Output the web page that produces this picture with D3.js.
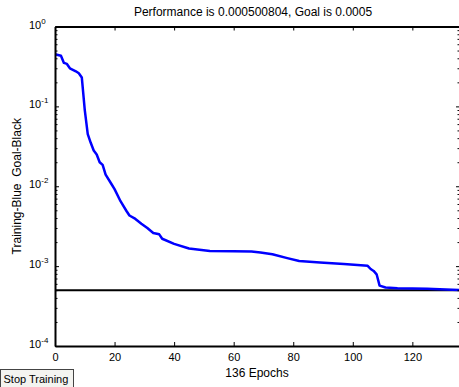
<!DOCTYPE html>
<html>
<head>
<meta charset="utf-8">
<script src="https://cdn.jsdelivr.net/npm/d3@7"></script>
<style>
  body { margin: 0; background: #fff; }
  svg { display: block; font-family: "Liberation Sans", Arial, sans-serif; }
  .axis path, .axis line { stroke: #000; }
  .axis path { stroke-width: 2; }
</style>
</head>
<body>
<svg id="chart" width="459" height="387"></svg>
<script>
// training record
const epochs = [0, 1, 2, 3, 4, 5, 7, 8, 9, 10, 11, 12, 13, 14, 15, 16, 17, 19, 20, 22, 24, 25, 27, 29, 31, 33, 35, 36, 40, 45, 52, 60, 66, 69, 73, 78, 82, 89, 97, 105, 106, 107, 108, 109, 111, 115, 125, 127, 136];
const perf = [0.45, 0.44, 0.43, 0.35, 0.34, 0.30, 0.275, 0.26, 0.23, 0.09, 0.045, 0.035, 0.028, 0.025, 0.020, 0.0185, 0.014, 0.0106, 0.0092, 0.0065, 0.0049, 0.0043, 0.0039, 0.0034, 0.0030, 0.0026, 0.0025, 0.0022, 0.0019, 0.00166, 0.00155, 0.00153, 0.00152, 0.00148, 0.00141, 0.00126, 0.00116, 0.00111, 0.00106, 0.00101, 0.00092, 0.00087, 0.00079, 0.00057, 0.00054, 0.00053, 0.00052, 0.000516, 0.000500804];
const goal = 0.0005;
const decades = [-4, -3, -2, -1, 0];
const xTicks = [0, 20, 40, 60, 80, 100, 120];

const svg = d3.select("#chart");
const mLeft = 55, mRight = 460, mTop = 26.5, mBottom = 346;

const x = d3.scaleLinear().domain([0, 136]).range([mLeft, mRight]);
const y = d3.scaleLog().domain([1e-4, 1]).range([mBottom, mTop]);

const major = decades.map(e => Math.pow(10, e));
const minor = [];
decades.slice(0, -1).forEach(e => {
  for (let k = 2; k <= 9; k++) minor.push(k * Math.pow(10, e));
});

// curve + goal line, clipped to the axes box
svg.append("clipPath").attr("id", "clip")
  .append("rect")
  .attr("x", mLeft).attr("y", mTop)
  .attr("width", mRight - mLeft).attr("height", mBottom - mTop);

const plot = svg.append("g").attr("clip-path", "url(#clip)");

plot.append("line")
  .attr("x1", x(0)).attr("x2", x(136))
  .attr("y1", y(goal)).attr("y2", y(goal))
  .attr("stroke", "#000")
  .attr("stroke-width", 2);

plot.append("path")
  .datum(epochs.map((e, i) => [e, perf[i]]))
  .attr("fill", "none")
  .attr("stroke", "#0000ff")
  .attr("stroke-width", 2.5)
  .attr("stroke-linejoin", "round")
  .attr("d", d3.line().x(d => x(d[0])).y(d => y(d[1])));

// axes, ticks pointing inward
svg.append("g").attr("class", "axis")
  .attr("transform", `translate(0,${mBottom})`)
  .call(d3.axisBottom(x).tickValues(xTicks).tickSizeInner(-4).tickSizeOuter(0).tickPadding(7))
  .call(g => g.selectAll("text")
    .attr("font-size", 11).attr("font-family", null).attr("fill", "#000"));

svg.append("g").attr("class", "axis")
  .attr("transform", `translate(0,${mTop})`)
  .call(d3.axisTop(x).tickValues(xTicks).tickSizeInner(-4).tickSizeOuter(0).tickFormat(""));

svg.append("g").attr("class", "axis")
  .attr("transform", `translate(${mLeft},0)`)
  .call(d3.axisLeft(y).tickValues(major).tickSizeInner(-4).tickSizeOuter(0).tickFormat(""));

svg.append("g").attr("class", "axis")
  .attr("transform", `translate(${mLeft},0)`)
  .call(d3.axisLeft(y).tickValues(minor).tickSizeInner(-2.5).tickSizeOuter(0).tickFormat(""))
  .call(g => g.select(".domain").remove());

svg.append("g").attr("class", "axis")
  .attr("transform", `translate(${mRight},0)`)
  .call(d3.axisRight(y).tickValues(major).tickSizeInner(-4).tickSizeOuter(0).tickFormat(""));

svg.append("g").attr("class", "axis")
  .attr("transform", `translate(${mRight},0)`)
  .call(d3.axisRight(y).tickValues(minor).tickSizeInner(-2.5).tickSizeOuter(0).tickFormat(""))
  .call(g => g.select(".domain").remove());

// 10^n labels
const ylab = svg.append("g").selectAll("text")
  .data(decades)
  .join("text")
  .attr("font-size", 11)
  .attr("y", d => y(Math.pow(10, d)) + 2);

ylab.append("tspan")
  .attr("x", 29)
  .text("10");
ylab.append("tspan")
  .attr("dy", -5)
  .attr("font-size", 8)
  .text(d => d === 0 ? "0" : "-" + Math.abs(d));

// titles
svg.append("text")
  .attr("x", 253).attr("y", 16)
  .attr("text-anchor", "middle")
  .attr("font-size", 12)
  .text("Performance is 0.000500804, Goal is 0.0005");

svg.append("text")
  .attr("x", 257).attr("y", 377)
  .attr("text-anchor", "middle")
  .attr("font-size", 12)
  .text("136 Epochs");

svg.append("text")
  .attr("transform", `translate(21,${(mTop + mBottom) / 2}) rotate(-90)`)
  .attr("text-anchor", "middle")
  .attr("font-size", 12)
  .style("white-space", "pre")
  .text("Training-Blue  Goal-Black");

// the stop button
const btn = svg.append("g");
btn.append("rect")
  .attr("x", 0.5).attr("y", 369.5)
  .attr("width", 73).attr("height", 20)
  .attr("fill", "#f4f4f0")
  .attr("stroke", "#444");
btn.append("text")
  .attr("x", 3.5).attr("y", 383)
  .attr("font-size", 11)
  .text("Stop Training");
</script>
</body>
</html>
